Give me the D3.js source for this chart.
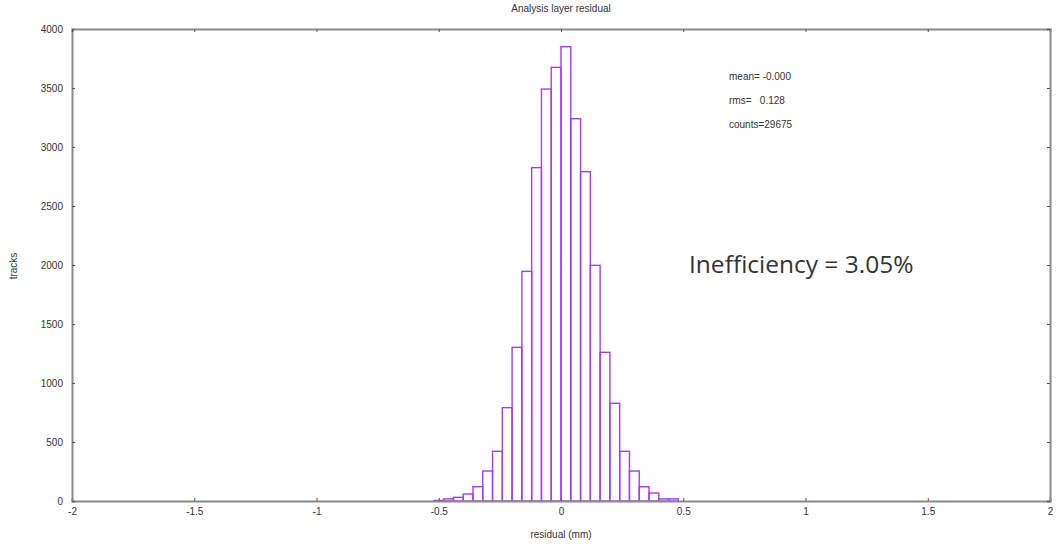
<!DOCTYPE html>
<html>
<head>
<meta charset="utf-8">
<script src="https://cdn.jsdelivr.net/npm/d3@7"></script>
<style>
  body { margin: 0; background: #fff; }
  text { font-family: "Liberation Sans", Arial, sans-serif; fill: #333; }
</style>
</head>
<body>
<script>
// histogram bins: lower edges (mm) and counts, bin width 0.04
var binWidth = 0.04
var binStarts = [-0.52, -0.48, -0.44, -0.40, -0.36, -0.32, -0.28, -0.24, -0.20, -0.16, -0.12, -0.08, -0.04,
                 0.00, 0.04, 0.08, 0.12, 0.16, 0.20, 0.24, 0.28, 0.32, 0.36, 0.40, 0.44]
var counts = [5, 18, 31, 59, 121, 254, 421, 791, 1302, 1946, 2825, 3491, 3675,
              3850, 3240, 2791, 1997, 1260, 828, 421, 254, 121, 68, 18, 18]
var xTicks = [-2, -1.5, -1, -0.5, 0, 0.5, 1, 1.5, 2]
var yTicks = [0, 500, 1000, 1500, 2000, 2500, 3000, 3500, 4000]
var statLines = ['mean= -0.000', 'rms=   0.128', 'counts=29675']

var W = 1057, H = 544
var margin = { top: 29, right: 7, bottom: 43, left: 72 }
var w = W - margin.left - margin.right
var h = H - margin.top - margin.bottom

var svg = d3.select('body').append('svg')
    .attr('width', W)
    .attr('height', H)

var g = svg.append('g')
    .attr('transform', 'translate(' + margin.left + ',' + margin.top + ')')

var xScale = d3.scaleLinear().domain([-2, 2]).range([0, w])
var yScale = d3.scaleLinear().domain([0, 4000]).range([h, 0])

// bars, outlined only
var bins = binStarts.map(function (s, i) { return { x0: s, x1: s + binWidth, n: counts[i] } })
g.selectAll('rect.bar')
    .data(bins)
    .enter()
  .append('rect')
    .attr('class', 'bar')
    .attr('x', function (d) { return xScale(d.x0) })
    .attr('y', function (d) { return yScale(d.n) })
    .attr('width', function (d) { return xScale(d.x1) - xScale(d.x0) })
    .attr('height', function (d) { return h - yScale(d.n) })
    .attr('fill', 'none')
    .attr('stroke', '#a43cf0')
    .attr('stroke-width', 1.4)

// axes (ticks point inward, mirrored on top/right)
var plain = function (d) { return String(d) }
var xAxis = d3.axisBottom(xScale).tickValues(xTicks).tickSize(-3).tickPadding(7).tickFormat(plain)
var yAxis = d3.axisLeft(yScale).tickValues(yTicks).tickSize(-3).tickPadding(9).tickFormat(plain)
var xTop = d3.axisTop(xScale).tickValues(xTicks).tickSize(-3).tickFormat('')
var yRight = d3.axisRight(yScale).tickValues(yTicks).tickSize(-3).tickFormat('')

function style(sel) {
  sel.select('.domain').attr('stroke', '#8a8a8a').attr('stroke-width', 2)
  sel.selectAll('.tick line').attr('stroke', '#555')
  sel.selectAll('.tick text').style('font-size', '10px').style('font-family', '"Liberation Sans", Arial, sans-serif').attr('fill', '#333')
}

g.append('g').attr('transform', 'translate(0,' + h + ')').call(xAxis).call(style)
g.append('g').call(yAxis).call(style)
g.append('g').call(xTop).call(style)
g.append('g').attr('transform', 'translate(' + w + ',0)').call(yRight).call(style)

// titles
svg.append('text')
    .attr('x', xScale(0) + margin.left)
    .attr('y', 12)
    .attr('text-anchor', 'middle')
    .style('font-size', '10px')
    .text('Analysis layer residual')

svg.append('text')
    .attr('x', xScale(0) + margin.left)
    .attr('y', 538)
    .attr('text-anchor', 'middle')
    .style('font-size', '10px')
    .text('residual (mm)')

svg.append('text')
    .attr('transform', 'translate(17,266) rotate(-90)')
    .attr('text-anchor', 'middle')
    .style('font-size', '10px')
    .text('tracks')

// stats box
svg.selectAll('text.stat')
    .data(statLines)
    .enter()
  .append('text')
    .attr('class', 'stat')
    .attr('x', 729)
    .attr('y', function (d, i) { return 80 + i * 24 })
    .style('font-size', '10px')
    .style('white-space', 'pre')
    .text(function (d) { return d })

svg.append('text')
    .attr('x', 689)
    .attr('y', 273)
    .style('font-family', '"Open Sans", sans-serif')
    .style('font-size', '24.5px')
    .attr('fill', '#222')
    .text('Inefficiency = 3.05%')
</script>
</body>
</html>
